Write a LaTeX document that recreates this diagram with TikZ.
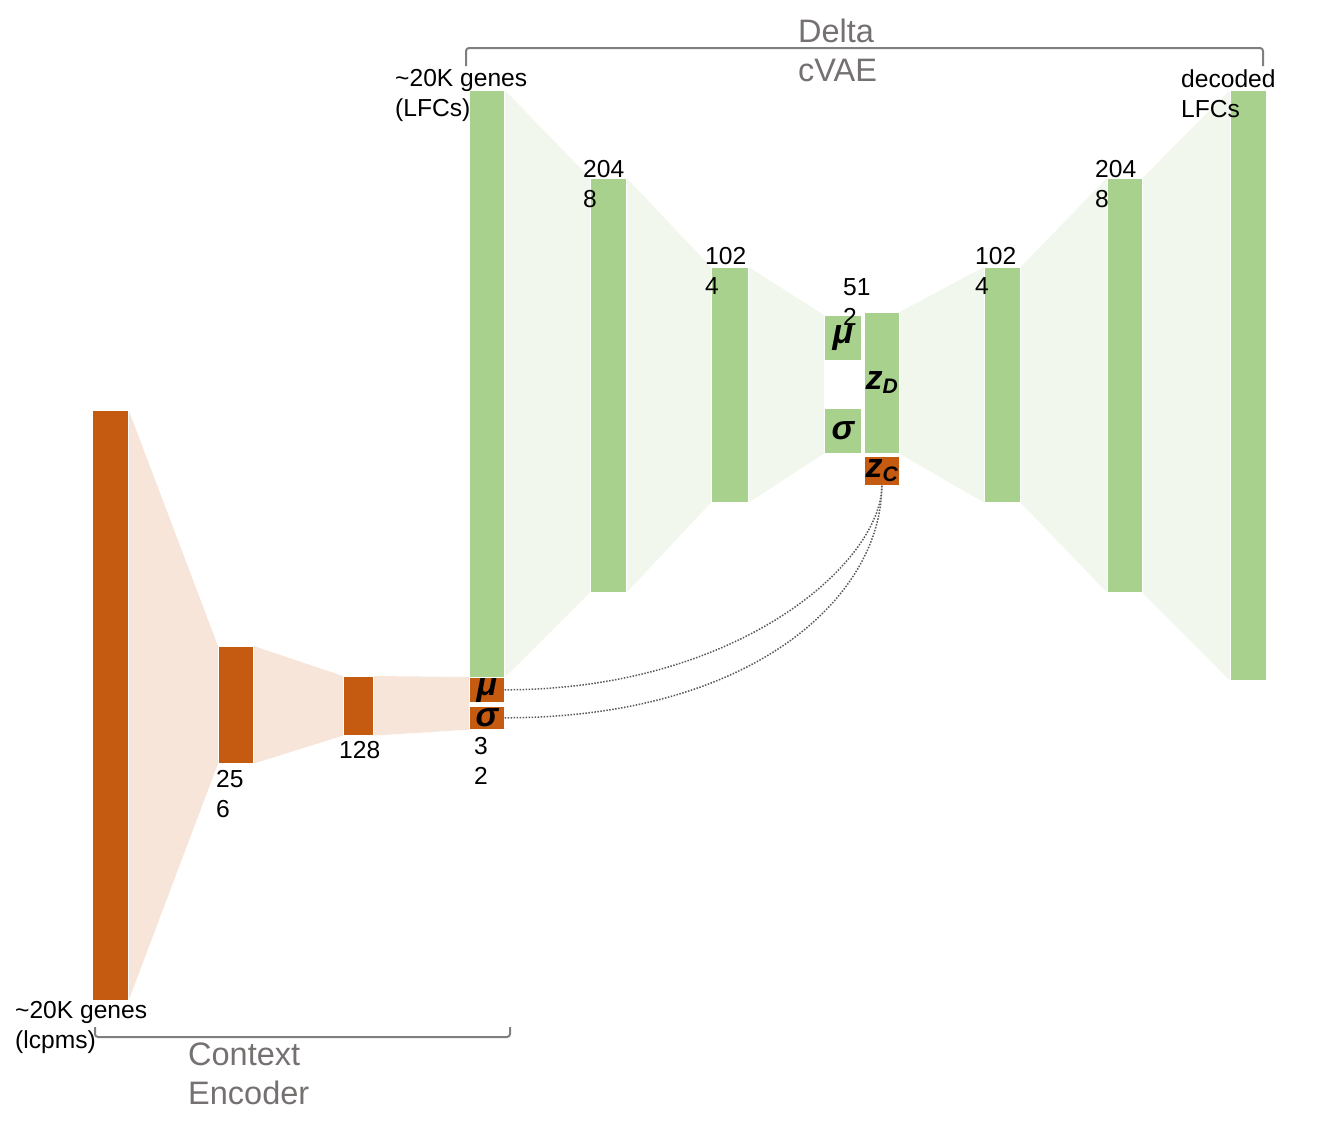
\documentclass[tikz,border=0pt]{standalone}
\usepackage{fontspec}
\setmainfont{Liberation Sans}
\usetikzlibrary{backgrounds}

\definecolor{encOrange}{HTML}{C55A11}
\definecolor{encFan}{HTML}{F8E5DA}
\definecolor{vaeGreen}{HTML}{A9D18E}
\definecolor{vaeFan}{HTML}{F1F7EC}
\definecolor{titleGray}{HTML}{767171}
\definecolor{braceGray}{HTML}{7F7F7F}
\definecolor{linkGray}{HTML}{595959}

\newcommand{\sub}[1]{\raisebox{-4pt}{\fontsize{21}{21}\selectfont #1}}

\tikzset{
  bar/.style={inner sep=0, anchor=north west, draw=white, line width=0.6pt,
    font=\fontsize{34}{34}\selectfont\bfseries\itshape},
  obar/.style={bar, fill=encOrange},
  gbar/.style={bar, fill=vaeGreen},
  dims/.style={inner sep=0, anchor=north west, align=left, font=\fontsize{24.6}{30}\selectfont},
  title/.style={dims, text=titleGray, font=\fontsize{32.5}{39}\selectfont},
  brace/.style={draw=braceGray, line width=2pt, rounded corners=3pt},
  link/.style={draw=linkGray, line width=1.5pt, dash pattern=on 1.5pt off 1.5pt},
}

\begin{document}
\begin{tikzpicture}[x=1pt, y=-1pt]
    \useasboundingbox (0,0) rectangle (1337,1135);

    % Context encoder
    \node[obar, minimum width=36pt, minimum height=590pt] (e1) at (92,410) {};
    \node[obar, minimum width=35pt, minimum height=117pt] (e2) at (218,646) {};
    \node[obar, minimum width=30pt, minimum height=59pt] (e3) at (343,676) {};
    \node[obar, minimum width=35pt, minimum height=24pt] (emu) at (469,677) {μ};
    \node[obar, minimum width=35pt, minimum height=23pt] (esig) at (469,706) {σ};

    % Delta cVAE encoder
    \node[gbar, minimum width=35pt, minimum height=587pt] (gin) at (469,90) {};
    \node[gbar, minimum width=36pt, minimum height=414pt] (g2) at (590,178) {};
    \node[gbar, minimum width=37pt, minimum height=235pt] (g3) at (711,267) {};
    \node[gbar, minimum width=37pt, minimum height=45pt] (gmu) at (824,315) {μ};
    \node[gbar, minimum width=37pt, minimum height=45pt] (gsig) at (824,408) {σ};

    % Latent code
    \node[gbar, minimum width=35pt, minimum height=141pt] (zd) at (864,312) {z\sub{D}};
    \node[obar, minimum width=35pt, minimum height=29pt] (zc) at (864,456) {z\sub{C}};

    % Delta cVAE decoder
    \node[gbar, minimum width=36pt, minimum height=235pt] (d3) at (984,267) {};
    \node[gbar, minimum width=35pt, minimum height=414pt] (d2) at (1107,178) {};
    \node[gbar, minimum width=36pt, minimum height=590pt] (dout) at (1230,90) {};

    % Fans between layers
    \begin{scope}[on background layer]
        \fill[encFan] (e1.north east) -- (e2.north west) -- (e2.south west) -- (e1.south east) -- cycle;
        \fill[encFan] (e2.north east) -- (e3.north west) -- (e3.south west) -- (e2.south east) -- cycle;
        \fill[encFan] (e3.north east) -- (emu.north west) -- (esig.south west) -- (e3.south east) -- cycle;
        \fill[vaeFan] (gin.north east) -- (g2.north west) -- (g2.south west) -- (gin.south east) -- cycle;
        \fill[vaeFan] (g2.north east) -- (g3.north west) -- (g3.south west) -- (g2.south east) -- cycle;
        \fill[vaeFan] (g3.north east) -- (gmu.north west) -- (gsig.south west) -- (g3.south east) -- cycle;
        \fill[vaeFan] (zd.north east) -- (d3.north west) -- (d3.south west) -- (zd.south east) -- cycle;
        \fill[vaeFan] (d3.north east) -- (d2.north west) -- (d2.south west) -- (d3.south east) -- cycle;
        \fill[vaeFan] (d2.north east) -- (dout.north west) -- (dout.south west) -- (d2.south east) -- cycle;
    \end{scope}

    % Layer sizes
    \node[dims] (lin) at (395,69) {\textasciitilde20K genes\\(LFCs)};
    \node[dims] (lout) at (1181,69) {decoded\\LFCs};
    \node[dims] (lg2) at (583,160) {204\\8};
    \node[dims] (lg3) at (705,247) {102\\4};
    \node[dims] (llat) at (843,278) {51\\2};
    \node[dims] (ld3) at (975,247) {102\\4};
    \node[dims] (ld2) at (1095,160) {204\\8};
    \node[dims] (le2) at (216,770) {25\\6};
    \node[dims] (le3) at (339,741) {128};
    \node[dims] (lemu) at (474,737) {3\\2};
    \node[dims] (le1) at (15,1001) {\textasciitilde20K genes\\(lcpms)};

    % Group titles and brackets
    \node[title] (tvae) at (798,19) {Delta\\cVAE};
    \node[title] (tenc) at (188,1043) {Context\\Encoder};
    \draw[brace] (466,66) -- (466,48) -- (1263,48) -- (1263,66);
    \draw[brace] (95,1027) -- (95,1037) -- (510,1037) -- (510,1027);

    % Context code feeds the latent
    \draw[link] (emu.east) .. controls +(235,0) and +(0,76) .. (zc.south);
    \draw[link] (esig.east) .. controls +(250,0) and +(0,110) .. (zc.south);
\end{tikzpicture}
\end{document}
